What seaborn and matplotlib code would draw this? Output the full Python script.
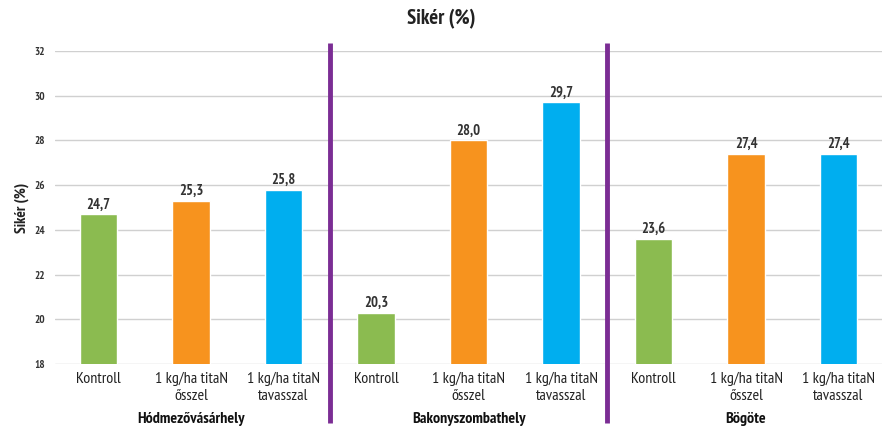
import matplotlib
matplotlib.use("Agg")
import matplotlib.pyplot as plt
import seaborn as sns
import pandas as pd
from matplotlib import font_manager

sites = ["Hódmezővásárhely", "Bakonyszombathely", "Bögöte"]
treatments = ["Kontroll", "1 kg/ha titaN\nősszel", "1 kg/ha titaN\ntavasszal"]
values_hod = [24.7, 25.3, 25.8]
values_bak = [20.3, 28.0, 29.7]
values_bog = [23.6, 27.4, 27.4]
yticks = [18, 20, 22, 24, 26, 28, 30, 32]
colors = ["#8BBB50", "#F7931E", "#00AEEF"]
title = "Sikér (%)"
ylabel = "Sikér (%)"

rows = []
for s, vals in zip(sites, [values_hod, values_bak, values_bog]):
    for t, v, c in zip(treatments, vals, colors):
        rows.append({"key": f"{s}|{t}", "site": s, "treat": t, "value": v, "color": c})
df = pd.DataFrame(rows)

sns.set_theme(style="white")
names = {f.name for f in font_manager.fontManager.ttflist}
fam = "DejaVu Sans"
for cand in ["PT Sans Narrow", "Roboto Condensed", "Archivo Narrow", "Asap Condensed"]:
    if cand in names:
        fam = cand
        break
plt.rcParams["font.family"] = [fam, "DejaVu Sans"]

fig = plt.figure(figsize=(8.82, 4.28), dpi=100)
ax = fig.add_axes([0.0624, 0.1495, 0.9376, 0.7313])

sns.barplot(data=df, x="key", y="value", hue="key", palette=list(df["color"]),
            order=list(df["key"]), width=0.41, legend=False, ax=ax, saturation=1)

ax.set_ylim(18, 32)
ax.set_xlim(-0.47, 8.47)
ax.set_yticks(yticks)
ax.set_yticklabels([str(y) for y in yticks], fontsize=8, fontweight="bold", color="#333333")
ax.set_xticks(range(len(df)))
ax.set_xticklabels(list(df["treat"]), fontsize=11.5, color="#222222", linespacing=1.2)
ax.tick_params(axis="x", length=0, pad=6)
ax.tick_params(axis="y", length=0, pad=7)
ax.grid(axis="y", color="#d0d0d0", linewidth=1)
ax.set_axisbelow(True)
for sp in ax.spines.values():
    sp.set_visible(False)
ax.set_xlabel("")
ax.set_ylabel(ylabel, fontsize=11, fontweight="bold", color="#222222", labelpad=4)

for i, v in enumerate(df["value"]):
    ax.text(i, v + 0.12, f"{v:.1f}".replace(".", ","), ha="center", va="bottom",
            fontsize=10.5, fontweight="bold", color="#333333")

for xs in [2.5, 5.5]:
    ax.plot([xs, xs], [-0.19, 1.025], transform=ax.get_xaxis_transform(),
            color="#7B2D94", linewidth=3.5, clip_on=False, solid_capstyle="butt")

for j, s in enumerate(sites):
    ax.text(3 * j + 1, -0.175, s, transform=ax.get_xaxis_transform(), ha="center",
            va="center", fontsize=11.5, fontweight="bold", color="#111111")

fig.text(0.5, 0.955, title, ha="center", va="center", fontsize=15,
         fontweight="bold", color="#222222")

fig.savefig("out.png", dpi=100)
